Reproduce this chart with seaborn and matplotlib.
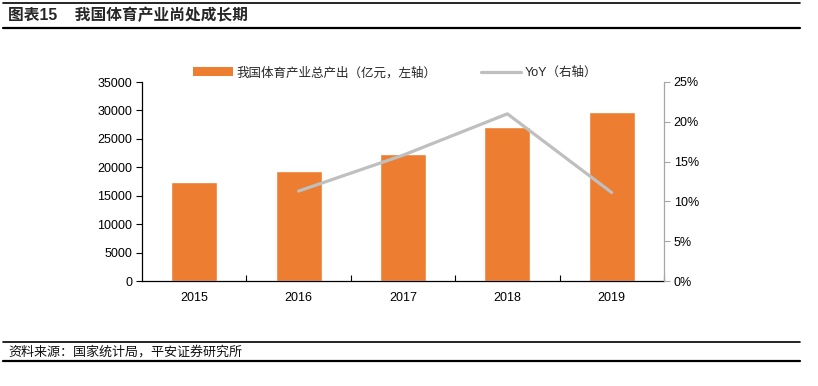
import matplotlib
matplotlib.use("Agg")
import matplotlib.pyplot as plt
from matplotlib.lines import Line2D
from matplotlib.patches import Patch
from matplotlib.ticker import FuncFormatter, MultipleLocator, FixedLocator
import seaborn as sns
import numpy as np
import pandas as pd

years = ["2015", "2016", "2017", "2018", "2019"]
output = [17500, 19400, 22300, 27000, 29700]          # 亿元
yoy = [np.nan, 11.3, 15.8, 21.0, 11.1]                # %

bar_label = "我国体育产业总产出（亿元，左轴）"
line_label = "YoY（右轴）"
title_text = "图表15    我国体育产业尚处成长期"
source_text = "资料来源：国家统计局，平安证券研究所"

sns.set_style("white")
plt.rcParams["font.family"] = ["Liberation Sans", "Noto Sans CJK SC", "DejaVu Sans"]

ORANGE = "#ED7D31"
GREY = "#BFBFBF"

df = pd.DataFrame({"year": years, "output": output, "yoy": yoy, "pos": np.arange(len(years))})

fig = plt.figure(figsize=(8.18, 3.86), dpi=100)
ax = fig.add_axes([142/818, 1-281/386, (664-142)/818, (281-82)/386])

sns.barplot(data=df, x="year", y="output", color=ORANGE, width=0.44,
            saturation=1, ax=ax, zorder=2)
ax.set_xlim(-0.5, len(years)-0.5)
ax.set_ylim(0, 35000)
ax.yaxis.set_major_locator(MultipleLocator(5000))
ax.set_xlabel("")
ax.set_ylabel("")

ax2 = ax.twinx()
sns.lineplot(data=df, x="pos", y="yoy", color=GREY, linewidth=2.3, ax=ax2,
             zorder=3, solid_capstyle="round")
ax2.set_ylim(0, 25)
ax2.yaxis.set_major_locator(MultipleLocator(5))
ax2.yaxis.set_major_formatter(FuncFormatter(lambda v, p: f"{v:.0f}%"))
ax2.set_xlim(-0.5, len(years)-0.5)
ax2.set_xlabel("")
ax2.set_ylabel("")

# spines
for a in (ax, ax2):
    for s in a.spines.values():
        s.set_visible(False)
ax.spines["left"].set_visible(True)
ax.spines["left"].set_color("black")
ax.spines["left"].set_linewidth(0.9)
ax.spines["bottom"].set_visible(True)
ax.spines["bottom"].set_color("black")
ax.spines["bottom"].set_linewidth(0.9)
ax2.spines["right"].set_visible(True)
ax2.spines["right"].set_color("#A6A6A6")
ax2.spines["right"].set_linewidth(0.9)

ax.tick_params(axis="y", which="major", direction="out", length=4, width=0.8,
               color="black", labelsize=9, pad=3, left=True)
ax2.tick_params(axis="y", which="major", direction="out", length=4, width=0.8,
                color="#A6A6A6", labelsize=9, pad=3, right=True)
# x ticks: labels at centers, tick marks at boundaries pointing inward
ax.tick_params(axis="x", which="major", length=0, labelsize=9, pad=8)
ax.xaxis.set_minor_locator(FixedLocator(np.arange(0.5, len(years)-0.5, 1.0).tolist() + [len(years)-0.5]))
ax.tick_params(axis="x", which="minor", direction="in", length=4, width=0.8,
               color="black", bottom=True)
for lbl in ax.get_xticklabels() + ax.get_yticklabels() + ax2.get_yticklabels():
    lbl.set_color("#000000")

# legend
handles = [Patch(facecolor=ORANGE, edgecolor="none", label=bar_label),
           Line2D([0], [0], color=GREY, linewidth=2.3, label=line_label)]
leg = fig.legend(handles=handles, loc="center", bbox_to_anchor=(0.483, 1-73/386),
                 ncol=2, frameon=False, handlelength=3.2,
                 handleheight=0.7, handletextpad=0.3, columnspacing=3.6,
                 prop={"family": ["Liberation Sans", "Noto Sans CJK SC"], "size": 9})

# header / footer
fig.text(8/818, 1-15/386, title_text, fontsize=11.3, fontweight="bold",
         va="center", ha="left", family=["Liberation Sans", "Noto Sans CJK SC"])
fig.text(8/818, 1-352/386, source_text, fontsize=9.4, style="italic",
         va="center", ha="left", family=["Noto Sans CJK SC", "DejaVu Sans"], color="#111111")

for y, lw in [(3, 1.2), (28, 1.6), (342, 1.2), (361, 1.6)]:
    fig.add_artist(Line2D([3/818, 800/818], [1-y/386, 1-y/386], color="black",
                          linewidth=lw, transform=fig.transFigure))

fig.savefig("out.png", dpi=100)
